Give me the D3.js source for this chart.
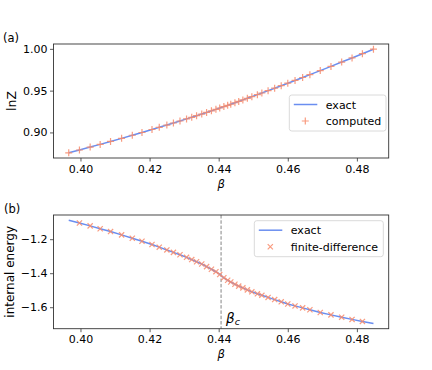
<!DOCTYPE html>
<html>
<head>
<meta charset="utf-8">
<script src="https://cdn.jsdelivr.net/npm/d3@7"></script>
<style>
  body { margin: 0; background: #fff; }
  text { font-family: "DejaVu Sans", sans-serif; fill: #000; }
</style>
</head>
<body>
<div id="chart"></div>
<script>
// inverse temperature grid (denser around the critical point)
const beta = [
  0.3966, 0.3997, 0.4028, 0.4057, 0.4087, 0.4119, 0.4150, 0.4178, 0.4207, 0.4228,
  0.4250, 0.4269, 0.4288, 0.4307, 0.4322, 0.4336, 0.4351, 0.4365, 0.4379, 0.4392,
  0.4403, 0.4415, 0.4426, 0.4435, 0.4447, 0.4458, 0.4470, 0.4483, 0.4496, 0.4512,
  0.4525, 0.4543, 0.4562, 0.4581, 0.4600, 0.4621, 0.4643, 0.4664, 0.4694, 0.4725,
  0.4756, 0.4786, 0.4816, 0.4848
];
const betaC = 0.44069;

// panel (a): ln Z
const lnZExact = [
  0.8756, 0.8790, 0.8825, 0.8857, 0.8892, 0.8929, 0.8966, 0.8999, 0.9035, 0.9061,
  0.9088, 0.9113, 0.9137, 0.9162, 0.9181, 0.9200, 0.9220, 0.9239, 0.9258, 0.9276,
  0.9292, 0.9309, 0.9324, 0.9337, 0.9355, 0.9371, 0.9389, 0.9408, 0.9428, 0.9452,
  0.9472, 0.9500, 0.9529, 0.9559, 0.9589, 0.9622, 0.9657, 0.9691, 0.9740, 0.9790,
  0.9842, 0.9891, 0.9942, 0.9996
];
const lnZComputed = [
  0.8756, 0.8790, 0.8825, 0.8857, 0.8892, 0.8929, 0.8966, 0.8999, 0.9035, 0.9061,
  0.9088, 0.9113, 0.9137, 0.9162, 0.9181, 0.9200, 0.9220, 0.9239, 0.9258, 0.9276,
  0.9292, 0.9309, 0.9324, 0.9337, 0.9355, 0.9371, 0.9389, 0.9408, 0.9428, 0.9452,
  0.9472, 0.9500, 0.9529, 0.9559, 0.9589, 0.9622, 0.9657, 0.9691, 0.9740, 0.9790,
  0.9842, 0.9891, 0.9942, 0.9996
];

// panel (b): internal energy
const energyExact = [
  -1.0881, -1.1044, -1.1218, -1.1383, -1.1552, -1.1747, -1.1944, -1.2121, -1.2313, -1.2469,
  -1.2633, -1.2774, -1.2915, -1.3066, -1.3200, -1.3324, -1.3460, -1.3613, -1.3766, -1.3913,
  -1.4074, -1.4270, -1.4417, -1.4519, -1.4654, -1.4759, -1.4865, -1.4980, -1.5095, -1.5212,
  -1.5301, -1.5423, -1.5553, -1.5682, -1.5812, -1.5923, -1.6040, -1.6151, -1.6310, -1.6451,
  -1.6586, -1.6716, -1.6838, -1.6960
];
// central differences: no value at the two end points
const energyFD = [
  -1.1046, -1.1216, -1.1384, -1.1553, -1.1746, -1.1943, -1.2122, -1.2312, -1.2470,
  -1.2632, -1.2775, -1.2914, -1.3067, -1.3199, -1.3325, -1.3461, -1.3612, -1.3767, -1.3910,
  -1.4080, -1.4262, -1.4415, -1.4520, -1.4652, -1.4760, -1.4864, -1.4981, -1.5094, -1.5213,
  -1.5300, -1.5424, -1.5552, -1.5683, -1.5811, -1.5924, -1.6039, -1.6152, -1.6309, -1.6452,
  -1.6585, -1.6717, -1.6837
];

const xTicks = [0.40, 0.42, 0.44, 0.46, 0.48];
const lnZTicks = [0.90, 0.95, 1.00];
const energyTicks = [-1.6, -1.4, -1.2];

const lineColor = "#6a8ef0";
const markColor = "#f98b6b";

const W = 432, H = 370;
const left = 53.5, right = 388.7;
const panelA = { top: 44, bottom: 158 };
const panelB = { top: 215, bottom: 328.7 };

const svg = d3.select("#chart").append("svg")
  .attr("width", W)
  .attr("height", H);

// matplotlib-like 5% margins
const padded = (vals) => {
  const [lo, hi] = d3.extent(vals);
  const m = (hi - lo) * 0.05;
  return [lo - m, hi + m];
};

const x = d3.scaleLinear().domain(padded(beta)).range([left, right]);

function panel(p, yVals, yTicks, yFmt) {
  const y = d3.scaleLinear().domain(padded(yVals)).range([p.bottom, p.top]);
  const g = svg.append("g");

  const xa = g.append("g")
    .attr("transform", `translate(0,${p.bottom})`)
    .call(d3.axisBottom(x).tickValues(xTicks).tickFormat(d3.format(".2f"))
      .tickSize(3.5).tickPadding(3.5));
  const ya = g.append("g")
    .attr("transform", `translate(${left},0)`)
    .call(d3.axisLeft(y).tickValues(yTicks).tickFormat(d3.format(yFmt))
      .tickSize(3.5).tickPadding(2.5));
  [xa, ya].forEach(a => {
    a.select(".domain").remove();
    a.selectAll("line").attr("stroke", "#333").attr("stroke-width", 0.8);
    a.selectAll("text").attr("font-size", 11).attr("font-family", "DejaVu Sans");
  });

  return { g, y };
}

// ---------- panel (a)
const a = panel(panelA, lnZExact, lnZTicks, ".2f");

a.g.append("path")
  .datum(beta.map((b, i) => [b, lnZExact[i]]))
  .attr("fill", "none")
  .attr("stroke", lineColor)
  .attr("stroke-width", 1.5)
  .attr("d", d3.line().x(d => x(d[0])).y(d => a.y(d[1])));

const plus = s => `M${-s},0H${s}M0,${-s}V${s}`;
const cross = s => `M${-s},${-s}L${s},${s}M${-s},${s}L${s},${-s}`;

a.g.append("g").selectAll("path")
  .data(beta.map((b, i) => [b, lnZComputed[i]]))
  .join("path")
  .attr("transform", d => `translate(${x(d[0])},${a.y(d[1])})`)
  .attr("d", plus(3.5))
  .attr("stroke", markColor)
  .attr("stroke-width", 1.2)
  .attr("opacity", 0.85);

// ---------- panel (b)
const b = panel(panelB, energyExact, energyTicks, ".1f");

b.g.append("line")
  .attr("x1", x(betaC)).attr("x2", x(betaC))
  .attr("y1", panelB.top).attr("y2", panelB.bottom)
  .attr("stroke", "#777")
  .attr("stroke-width", 0.9)
  .attr("stroke-dasharray", "3.5,1.8");

b.g.append("path")
  .datum(beta.map((bb, i) => [bb, energyExact[i]]))
  .attr("fill", "none")
  .attr("stroke", lineColor)
  .attr("stroke-width", 1.5)
  .attr("d", d3.line().x(d => x(d[0])).y(d => b.y(d[1])));

b.g.append("g").selectAll("path")
  .data(beta.slice(1, -1).map((bb, i) => [bb, energyFD[i]]))
  .join("path")
  .attr("transform", d => `translate(${x(d[0])},${b.y(d[1])})`)
  .attr("d", cross(2.6))
  .attr("stroke", markColor)
  .attr("stroke-width", 1.2)
  .attr("opacity", 0.85);

const bc = b.g.append("text")
  .attr("x", x(betaC) + 5)
  .attr("y", panelB.bottom - 6)
  .attr("font-size", 13.5)
  .attr("font-style", "italic");
bc.append("tspan").text("β");
bc.append("tspan").attr("font-size", 9.5).attr("dy", 2).text("c");

// spines on top of everything
[panelA, panelB].forEach(p => {
  svg.append("rect")
    .attr("x", left).attr("y", p.top)
    .attr("width", right - left).attr("height", p.bottom - p.top)
    .attr("fill", "none")
    .attr("stroke", "#333")
    .attr("stroke-width", 0.9);
});

// ---------- labels
svg.append("text").attr("x", 3).attr("y", 42).attr("font-size", 11.5).text("(a)");
svg.append("text").attr("x", 4).attr("y", 213).attr("font-size", 11.5).text("(b)");

svg.append("text")
  .attr("x", x(0.4407)).attr("y", 188)
  .attr("text-anchor", "middle").attr("font-size", 11.5).attr("font-style", "italic")
  .text("β");
svg.append("text")
  .attr("x", x(0.4407)).attr("y", 358)
  .attr("text-anchor", "middle").attr("font-size", 11.5).attr("font-style", "italic")
  .text("β");

svg.append("text")
  .attr("transform", `translate(16,${(panelA.top + panelA.bottom) / 2}) rotate(-90)`)
  .attr("text-anchor", "middle").attr("font-size", 12.5)
  .text("lnZ");
svg.append("text")
  .attr("transform", `translate(14,${(panelB.top + panelB.bottom) / 2}) rotate(-90)`)
  .attr("text-anchor", "middle").attr("font-size", 12)
  .text("internal energy");

// ---------- legends
function legend(x0, y0, w, h, items) {
  const g = svg.append("g").attr("transform", `translate(${x0},${y0})`);
  g.append("rect")
    .attr("width", w).attr("height", h).attr("rx", 2.5)
    .attr("fill", "#fff").attr("fill-opacity", 0.85)
    .attr("stroke", "#d6d6d6").attr("stroke-width", 0.9);
  items.forEach((it, i) => {
    const cy = 9.5 + i * 16.5;
    if (it.kind === "line") {
      g.append("line")
        .attr("x1", 4.5).attr("x2", 28).attr("y1", cy).attr("y2", cy)
        .attr("stroke", lineColor).attr("stroke-width", 1.5);
    } else {
      g.append("path")
        .attr("transform", `translate(16,${cy})`)
        .attr("d", it.kind === "plus" ? plus(3.5) : cross(2.6))
        .attr("stroke", markColor).attr("stroke-width", 1.2).attr("opacity", 0.85);
    }
    g.append("text")
      .attr("x", 36.5).attr("y", cy + 4)
      .attr("font-size", 11)
      .text(it.label);
  });
}

legend(289.3, 95, 96.7, 36, [
  { kind: "line", label: "exact" },
  { kind: "plus", label: "computed" }
]);
legend(254.3, 220.7, 129, 36, [
  { kind: "line", label: "exact" },
  { kind: "cross", label: "finite-difference" }
]);
</script>
</body>
</html>
